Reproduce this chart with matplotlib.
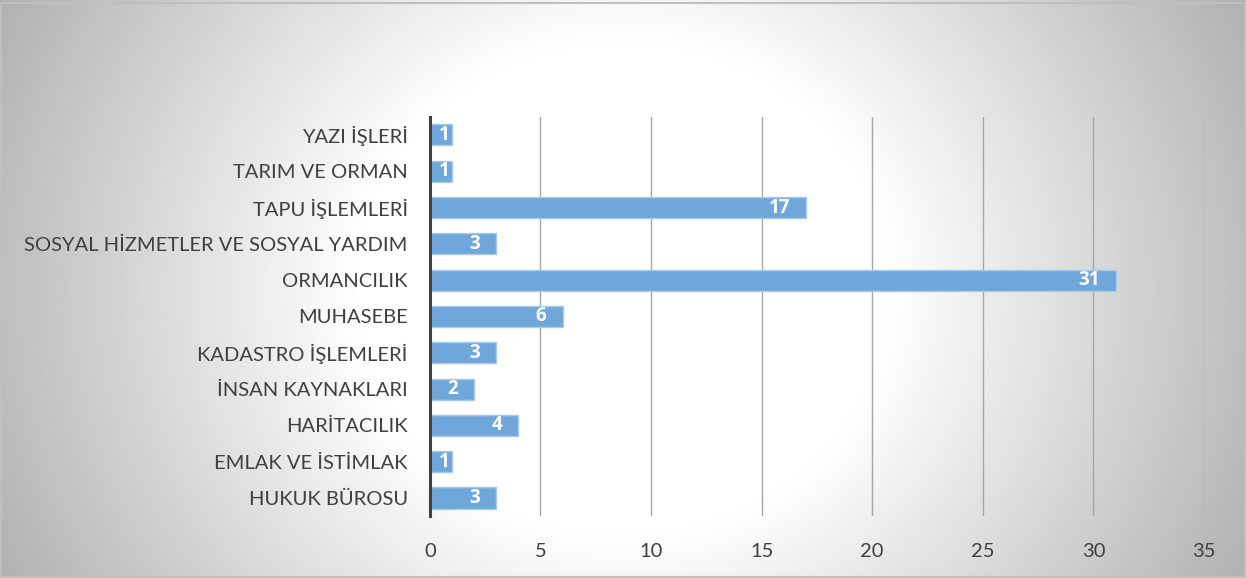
import numpy as np
import matplotlib.pyplot as plt
from matplotlib.patches import Rectangle

# data (bottom to top)
categories = ['HUKUK BÜROSU', 'EMLAK VE İSTİMLAK', 'HARİTACILIK', 'İNSAN KAYNAKLARI',
              'KADASTRO İŞLEMLERİ', 'MUHASEBE', 'ORMANCILIK',
              'SOSYAL HİZMETLER VE SOSYAL YARDIM', 'TAPU İŞLEMLERİ',
              'TARIM VE ORMAN', 'YAZI İŞLERİ']
values = [3, 1, 4, 2, 3, 6, 31, 3, 17, 1, 1]
xticks = [0, 5, 10, 15, 20, 25, 30, 35]

plt.rcParams['font.family'] = ['Lato', 'DejaVu Sans']

fig = plt.figure(figsize=(12.46, 5.78), dpi=100)

# radial gradient background
bg = fig.add_axes([0, 0, 1, 1], zorder=-10)
gx, gy = np.meshgrid(np.linspace(0, 1, 400), np.linspace(0, 1, 200))
d = np.sqrt(((gx - 0.5) / 0.5) ** 2 + (0.5 * (gy - 0.5) / 0.5) ** 2)
shade = np.clip(1 - 0.44 * np.clip(d - 0.42, 0, None), 0, 1)
bg.imshow(shade, cmap='gray', vmin=0, vmax=1, aspect='auto',
          extent=[0, 1, 0, 1], interpolation='bilinear')
bg.add_patch(Rectangle((0.001, 0.002), 0.998, 0.993, fill=False,
                       edgecolor='#BFBFBF', lw=1.5, transform=bg.transAxes))
bg.set_xlim(0, 1)
bg.set_ylim(0, 1)
bg.axis('off')

ax = fig.add_axes([0.345, 0.107, 0.6213, 0.691])
ax.patch.set_alpha(0)
y = np.arange(len(categories))
ax.barh(y, values, height=0.58, color='#70A7DA', edgecolor='#A9C9EA',
        linewidth=1, zorder=3)

px_per_unit = 0.6213 * 1246 / 35
for yi, v in zip(y, values):
    off = min(16, max(2, v * px_per_unit - 20))
    ax.annotate(str(v), (v, yi), xytext=(-off, 0), textcoords='offset pixels',
                ha='right', va='center', color='white', fontweight='bold',
                fontsize=13.5, family=['Open Sans', 'DejaVu Sans'], zorder=4)

ax.set_xlim(0, 35)
ax.set_ylim(-0.5, len(categories) - 0.5)
ax.set_xticks(xticks)
ax.set_yticks(y)
ax.set_yticklabels(categories)
ax.tick_params(axis='y', length=0, pad=16, labelsize=14.5, labelcolor='#404040')
ax.tick_params(axis='x', length=0, pad=19, labelsize=14.5, labelcolor='#404040')
ax.grid(axis='x', color='#A6A6A6', linewidth=1, zorder=0)
for s in ['top', 'right', 'bottom']:
    ax.spines[s].set_visible(False)
ax.spines['left'].set_color('#404040')
ax.spines['left'].set_linewidth(2.2)
ax.spines['left'].set_zorder(5)

plt.savefig('out.png', dpi=100)
